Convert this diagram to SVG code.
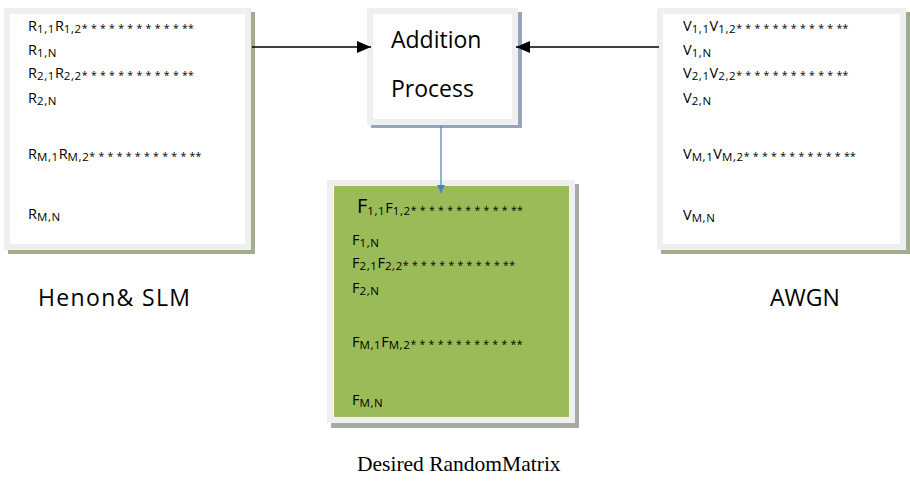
<svg xmlns="http://www.w3.org/2000/svg" width="910" height="488" viewBox="0 0 910 488">
<defs>
<style>
.frame{fill:#ffffff;stroke:#efefef;stroke-width:6}
.m{font-family:"Open Sans",sans-serif;font-size:14.5px;fill:#000}
.s{font-size:11.5px;letter-spacing:0.6px}
.a{font-size:10.5px;letter-spacing:0.3px}
.big{font-family:"Open Sans",sans-serif;font-size:23px;fill:#000}
.serif{font-family:"Liberation Serif",serif;font-size:21.5px;fill:#000}
.conn{stroke:#000;stroke-width:1.3;fill:none}
.blue{stroke:#4f81bd;stroke-width:1.2;fill:none}
</style>
<marker id="ah" viewBox="0 0 14 12" refX="14" refY="6" markerWidth="14" markerHeight="12" markerUnits="userSpaceOnUse" orient="auto">
<path d="M0,0 L14,6 L0,12 Z" fill="#000"/>
</marker>
<marker id="bh" viewBox="0 0 8 8" refX="8" refY="4" markerWidth="8" markerHeight="8" markerUnits="userSpaceOnUse" orient="auto">
<path d="M0,0 L8,4 L0,8 Z" fill="#4f81bd"/>
</marker>
</defs>
<rect width="910" height="488" fill="#fff"/>

<g id="henon-box">
<rect x="8" y="12" width="247" height="242" fill="#a2ad8f"/>
<rect class="frame" x="7" y="11" width="241" height="236"/>
<text class="m" x="28" y="31">R<tspan class="s" dy="1.5">1,1</tspan><tspan dy="-1.5">R</tspan><tspan class="s" dy="1.5">1,2</tspan><tspan class="a" dy="-1">* * * * * * * * * * * **</tspan></text>
<text class="m" x="28" y="55">R<tspan class="s" dy="1.5">1,N</tspan></text>
<text class="m" x="28" y="78">R<tspan class="s" dy="1.5">2,1</tspan><tspan dy="-1.5">R</tspan><tspan class="s" dy="1.5">2,2</tspan><tspan class="a" dy="-1">* * * * * * * * * * * **</tspan></text>
<text class="m" x="28" y="103">R<tspan class="s" dy="1.5">2,N</tspan></text>
<text class="m" x="28" y="159">R<tspan class="s" dy="1.5">M,1</tspan><tspan dy="-1.5">R</tspan><tspan class="s" dy="1.5">M,2</tspan><tspan class="a" dy="-1">* * * * * * * * * * * **</tspan></text>
<text class="m" x="28" y="219">R<tspan class="s" dy="1.5">M,N</tspan></text>
</g>

<g id="awgn-box">
<rect x="661" y="12" width="249" height="242" fill="#a2ad8f"/>
<rect class="frame" x="660" y="11" width="243" height="236"/>
<text class="m" x="683" y="31">V<tspan class="s" dy="1.5">1,1</tspan><tspan dy="-1.5">V</tspan><tspan class="s" dy="1.5">1,2</tspan><tspan class="a" dy="-1">* * * * * * * * * * * **</tspan></text>
<text class="m" x="683" y="55">V<tspan class="s" dy="1.5">1,N</tspan></text>
<text class="m" x="683" y="78">V<tspan class="s" dy="1.5">2,1</tspan><tspan dy="-1.5">V</tspan><tspan class="s" dy="1.5">2,2</tspan><tspan class="a" dy="-1">* * * * * * * * * * * **</tspan></text>
<text class="m" x="683" y="103">V<tspan class="s" dy="1.5">2,N</tspan></text>
<text class="m" x="683" y="159">V<tspan class="s" dy="1.5">M,1</tspan><tspan dy="-1.5">V</tspan><tspan class="s" dy="1.5">M,2</tspan><tspan class="a" dy="-1">* * * * * * * * * * * **</tspan></text>
<text class="m" x="683" y="220">V<tspan class="s" dy="1.5">M,N</tspan></text>
</g>

<g id="addition-box">
<rect x="371" y="12" width="151" height="116" fill="#95a5bd"/>
<rect class="frame" x="370" y="11" width="145" height="111"/>
<text class="big" x="391" y="48">Addition</text>
<text class="big" x="391" y="97">Process</text>
</g>

<g id="result-box">
<rect x="331" y="184" width="248" height="244" fill="#a8aba4"/>
<rect class="frame" x="330" y="183" width="242" height="237" fill="#9bbb59"/>
<rect x="334" y="186" width="235" height="231" fill="#9bbb59"/>
<text class="m" x="357" y="213"><tspan font-size="20">F</tspan><tspan class="s" dy="1.5">1,1</tspan><tspan dy="-1.5">F</tspan><tspan class="s" dy="1.5">1,2</tspan><tspan class="a" dy="-1">* * * * * * * * * * * **</tspan></text>
<text class="m" x="352" y="245">F<tspan class="s" dy="1.5">1,N</tspan></text>
<text class="m" x="352" y="268">F<tspan class="s" dy="1.5">2,1</tspan><tspan dy="-1.5">F</tspan><tspan class="s" dy="1.5">2,2</tspan><tspan class="a" dy="-1">* * * * * * * * * * * **</tspan></text>
<text class="m" x="352" y="293">F<tspan class="s" dy="1.5">2,N</tspan></text>
<text class="m" x="352" y="347">F<tspan class="s" dy="1.5">M,1</tspan><tspan dy="-1.5">F</tspan><tspan class="s" dy="1.5">M,2</tspan><tspan class="a" dy="-1">* * * * * * * * * * * **</tspan></text>
<text class="m" x="352" y="405">F<tspan class="s" dy="1.5">M,N</tspan></text>
</g>

<g id="connectors">
<line class="conn" x1="252" y1="47" x2="371" y2="47" marker-end="url(#ah)"/>
<line class="conn" x1="659" y1="47" x2="516" y2="47" marker-end="url(#ah)"/>
<line class="blue" x1="441" y1="126" x2="441" y2="193" marker-end="url(#bh)"/>
</g>

<g id="labels">
<text class="big" x="38" y="306" font-size="22" textLength="152">Henon&amp; SLM</text>
<text class="big" x="770" y="306" font-size="22">AWGN</text>
<text class="serif" x="357" y="471">Desired RandomMatrix</text>
</g>
</svg>
